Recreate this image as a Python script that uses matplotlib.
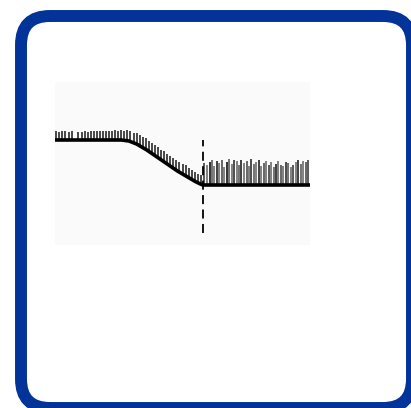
import numpy as np
import matplotlib
matplotlib.use("Agg")
import matplotlib.pyplot as plt
from matplotlib.patches import FancyBboxPatch

# fitted curve (x, y)
curve_x = [0, 26, 29, 32, 36, 40, 44, 48, 52, 55, 57, 58, 100]
curve_y = [10.5, 10.5, 10.4, 10.1, 9.5, 8.8, 8.1, 7.4, 6.8, 6.35, 6.1, 6.0, 6.0]

cutoff = 58

# tick marks left of the cutoff: positions and lengths above the curve
left_x = [0.5, 1.7, 2.9, 4.1, 5.3, 6.5, 9.2, 10.4, 11.6, 12.8, 14.0, 15.2, 16.4, 17.6,
          18.8, 20.0, 21.2, 22.4, 23.6, 24.8, 26.0, 27.2, 28.4, 29.6, 30.8, 32.0, 33.2,
          34.4, 35.6, 36.8, 38.0, 39.2, 40.4, 41.6, 42.8, 44.0, 45.2, 46.4, 47.6, 48.8,
          50.0, 51.2, 52.4, 53.6, 54.8, 56.0, 57.2]
left_h = [0.9, 0.85, 0.9, 0.9, 0.85, 0.9, 0.8, 0.85, 0.9, 0.85, 0.9, 0.9, 0.95, 0.9,
          0.9, 0.95, 0.9, 0.95, 1.0, 0.95, 1.0, 0.95, 1.05, 1.05, 1.0, 1.1, 1.05,
          1.05, 1.1, 1.05, 1.05, 1.1, 1.05, 1.0, 1.05, 1.05, 1.0, 1.05, 1.05, 1.0,
          1.0, 1.05, 0.95, 0.95, 0.9, 0.85, 0.95]

# tick marks right of the cutoff
right_x = [58.6, 59.6, 60.6, 61.5, 62.5, 63.5, 64.4, 65.4, 66.4, 67.3, 68.3, 69.3, 70.2,
           71.2, 72.2, 73.1, 74.1, 75.1, 76.0, 77.0, 78.0, 78.9, 79.9, 80.9, 81.8, 82.8,
           83.8, 84.7, 85.7, 86.7, 87.6, 88.6, 89.6, 90.5, 91.5, 92.5, 93.4, 94.4, 95.4,
           96.3, 97.3, 98.3, 99.2]
right_h = [2.2, 2.0, 2.3, 2.5, 1.9, 2.4, 2.2, 2.5, 1.8, 2.3, 2.6, 2.1, 2.5, 2.4,
           2.0, 2.5, 2.2, 2.4, 1.9, 2.6, 2.1, 2.3, 2.5, 1.9, 2.2, 2.4, 2.0, 2.3,
           1.8, 2.1, 2.4, 2.0, 1.9, 2.3, 2.2, 1.8, 2.0, 2.3, 2.5, 2.1, 2.4, 2.3, 2.5]
right_shade = [0.35, 0.5, 0.2, 0.45, 0.5, 0.25, 0.5, 0.4, 0.5, 0.2, 0.45, 0.5, 0.3,
               0.5, 0.45, 0.25, 0.5, 0.4, 0.5, 0.3, 0.45, 0.5, 0.25, 0.5, 0.4, 0.5,
               0.35, 0.5, 0.45, 0.25, 0.5, 0.4, 0.5, 0.3, 0.45, 0.5, 0.35, 0.5, 0.25,
               0.45, 0.5, 0.4, 0.35]

W, H = 411, 408
fig = plt.figure(figsize=(W / 100, H / 100), dpi=100)
fig.patch.set_facecolor("white")

# rounded frame
bg = fig.add_axes([0, 0, 1, 1])
bg.set_xlim(0, W)
bg.set_ylim(H, 0)
bg.axis("off")
frame = FancyBboxPatch((21, 16), 391, 392, boxstyle="round,pad=0,rounding_size=29",
                       facecolor="white", edgecolor="#013399", linewidth=8.6, clip_on=False)
bg.add_patch(frame)

# plot panel
ax = fig.add_axes([55 / W, (H - 245) / H, 255 / W, 163 / H])
ax.set_facecolor("#fafafa")
ax.set_xlim(0, 100)
ax.set_ylim(0, 16.3)
for s in ax.spines.values():
    s.set_visible(False)
ax.set_xticks([])
ax.set_yticks([])

lb = np.interp(left_x, curve_x, curve_y)
ax.vlines(left_x, lb, lb + np.array(left_h), colors="#3a3a3a", linewidth=1.3)
rb = np.interp(right_x, curve_x, curve_y)
ax.vlines(right_x, rb, rb + np.array(right_h), colors=[str(s) for s in right_shade], linewidth=1.4)

ax.plot(curve_x, curve_y, color="black", linewidth=2.6, solid_capstyle="butt", zorder=5)
ax.plot([cutoff, cutoff], [1.2, 10.5], color="black", linewidth=1.3, linestyle=(0, (5, 3)), zorder=6)

fig.savefig("out.png", dpi=100)
